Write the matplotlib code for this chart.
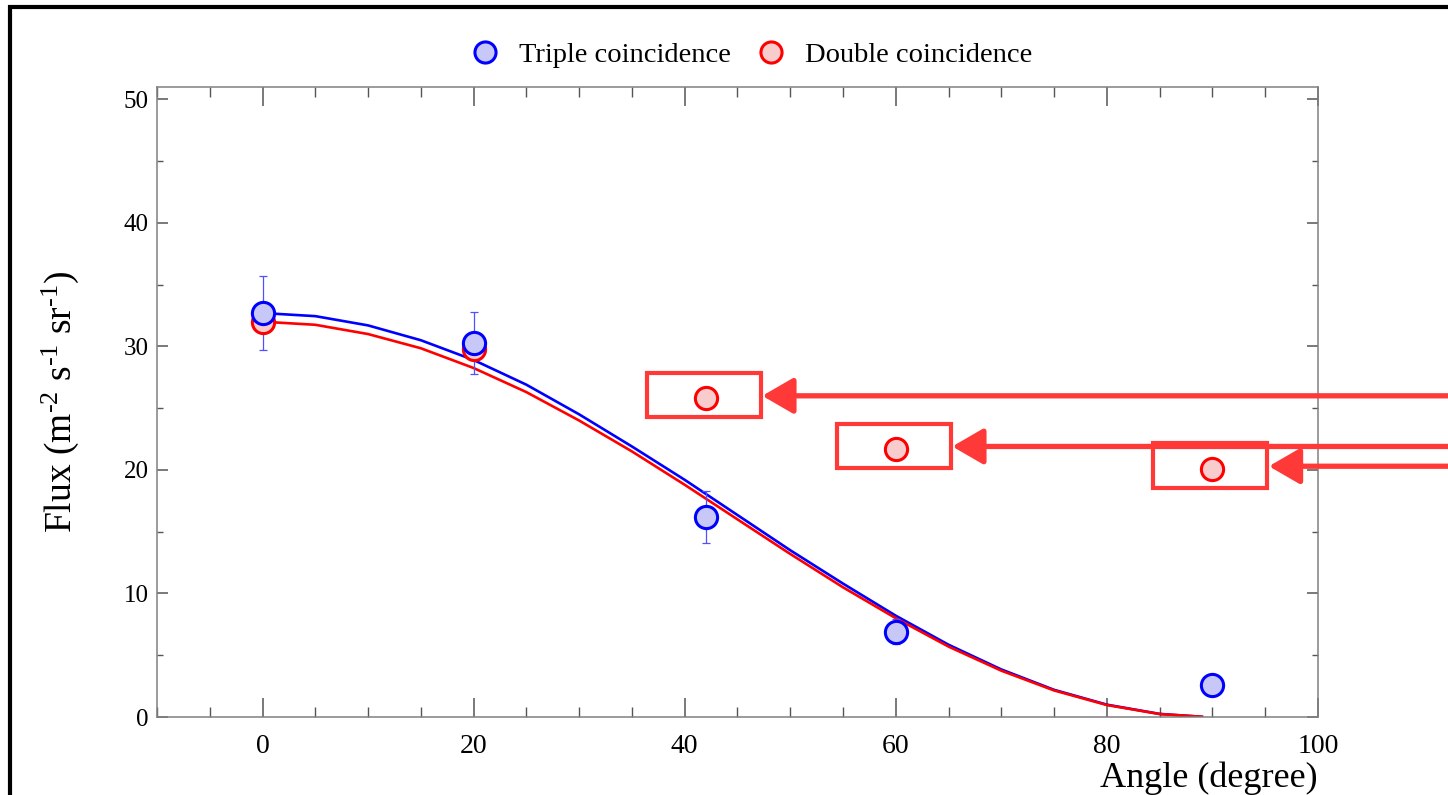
import numpy as np
import matplotlib.pyplot as plt
from matplotlib.patches import Rectangle
from matplotlib.ticker import MultipleLocator

plt.rcParams['font.family'] = ['Liberation Serif', 'DejaVu Serif']
plt.rcParams['mathtext.fontset'] = 'custom'
plt.rcParams['mathtext.rm'] = 'Liberation Serif'
plt.rcParams['mathtext.it'] = 'Liberation Serif:italic'

# measured points
angles = [0, 20, 42, 60, 90]
triple = [32.7, 30.3, 16.2, 6.9, 2.6]
triple_err = [3.0, 2.5, 2.1, 1.0, 0.4]
double = [32.0, 29.8, 25.8, 21.7, 20.1]

# fitted curves
fit_angles = [0, 5, 10, 15, 20, 25, 30, 35, 40, 45, 50, 55, 60, 65, 70, 75, 80, 85, 89]
fit_triple = [32.7, 32.45, 31.7, 30.5, 28.9, 26.9, 24.5, 21.9, 19.2, 16.35, 13.5, 10.8,
              8.2, 5.85, 3.85, 2.2, 1.0, 0.25, 0.02]
fit_double = [32.0, 31.75, 31.0, 29.85, 28.25, 26.3, 24.0, 21.5, 18.8, 16.0, 13.2, 10.5,
              8.0, 5.7, 3.75, 2.15, 0.97, 0.24, 0.02]

# double-coincidence points that get highlighted
flagged = [2, 3, 4]

box_red = '#ff3838'

fig = plt.figure(figsize=(14.48, 7.95), dpi=100)
ax = fig.add_axes([0.1084, 0.0981, 0.8018, 0.7925])

ax.plot(fit_angles, fit_triple, color='blue', lw=1.9, zorder=2)
ax.plot(fit_angles, fit_double, color='red', lw=1.9, zorder=2)

ax.errorbar(angles, triple, yerr=triple_err, fmt='none', ecolor='#5050ff',
            elinewidth=0.9, capsize=3, capthick=0.9, zorder=3)
ax.plot(angles, double, 'o', ms=16, mfc='#f8cccc', mec='red', mew=2.2,
        zorder=4, label='Double coincidence')
ax.plot(angles, triple, 'o', ms=16, mfc='#c8c8f8', mec='blue', mew=2.2,
        zorder=5, label='Triple coincidence')

# boxes and arrows around the flagged points
for i in flagged:
    x, y = angles[i], double[i]
    ax.add_patch(Rectangle((x - 5.6, y - 1.55), 10.8, 3.6, fill=False,
                           ec=box_red, lw=3, zorder=6, clip_on=False))
    ax.annotate('', xy=(x + 5.35, y + 0.2), xycoords='data',
                xytext=(1.02, y + 0.2), textcoords=('figure fraction', 'data'),
                arrowprops=dict(arrowstyle='-|>,head_length=0.38,head_width=0.22',
                                mutation_scale=50, lw=3.8, color=box_red,
                                shrinkA=0, shrinkB=0),
                annotation_clip=False, zorder=6)

ax.set_xlim(-10, 100)
ax.set_ylim(0, 51)
ax.xaxis.set_major_locator(MultipleLocator(20))
ax.xaxis.set_minor_locator(MultipleLocator(5))
ax.yaxis.set_major_locator(MultipleLocator(10))
ax.yaxis.set_minor_locator(MultipleLocator(5))
ax.tick_params(which='both', direction='in', top=True, right=True, color='#555555')
ax.tick_params(axis='x', which='major', length=14, width=1.1, labelsize=20, pad=12)
ax.tick_params(axis='x', which='minor', length=7, width=1.0)
ax.tick_params(axis='y', which='major', length=8, width=1.1, labelsize=18, pad=6)
ax.tick_params(axis='y', which='minor', length=4, width=1.0)
for s in ax.spines.values():
    s.set_color('#808080')
    s.set_linewidth(1.1)

ax.set_xlabel('Angle (degree)', fontsize=26, loc='right', labelpad=2)
ax.set_ylabel(r'Flux (m$^{\text{-}2}$ s$^{\text{-}1}$ sr$^{\text{-}1}$)',
              fontsize=27, labelpad=31)

handles, labels = ax.get_legend_handles_labels()
leg = fig.legend(handles[::-1], labels[::-1], loc='center', ncol=2, frameon=False,
                 bbox_to_anchor=(0.518, 0.931), fontsize=20.5, handletextpad=0.6,
                 columnspacing=0.8, markerscale=0.95, handlelength=1.2)

# black frame around the figure
fig.patches.append(Rectangle((10 / 1448, -0.1), 1.2, 1.1 - 6.5 / 795,
                             transform=fig.transFigure, fill=False, ec='black',
                             lw=3, clip_on=False))

fig.savefig('out.png', dpi=100)
